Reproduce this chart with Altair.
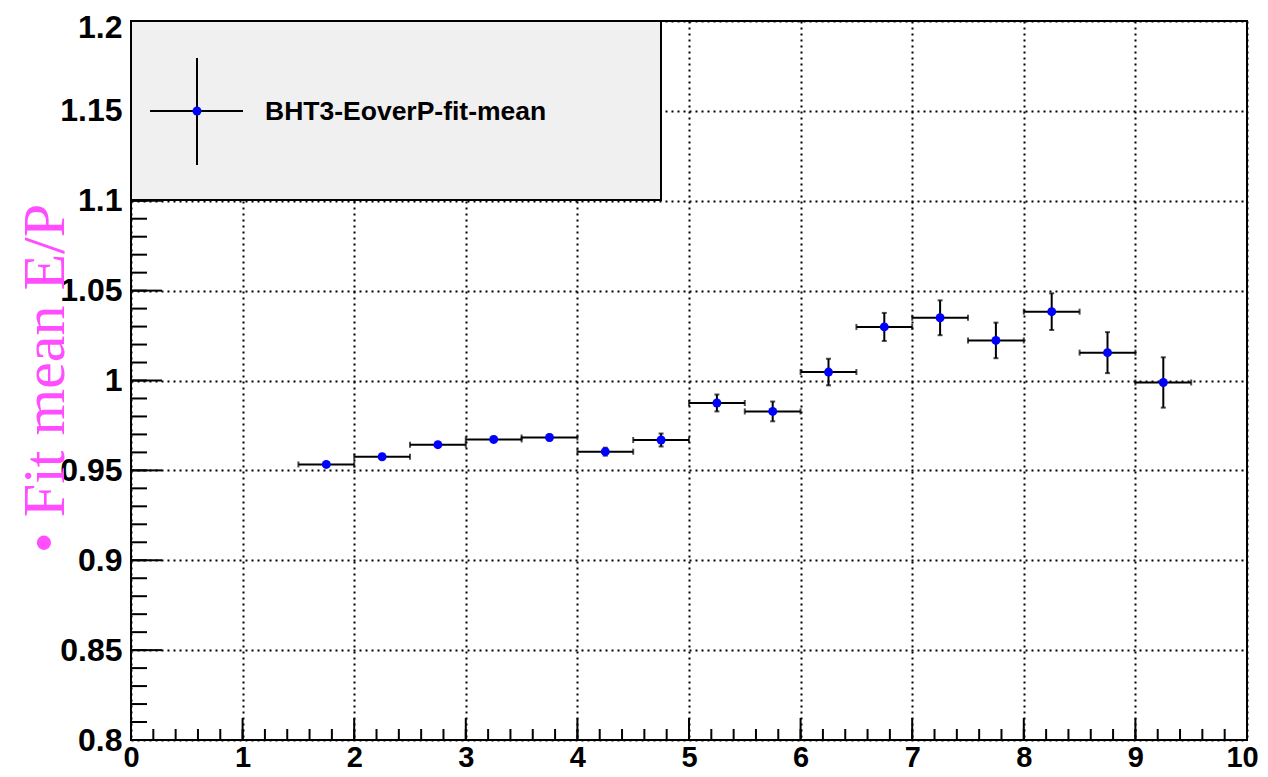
import altair as alt
import pandas as pd

# ---- data ----
x_center = [1.75, 2.25, 2.75, 3.25, 3.75, 4.25, 4.75, 5.25,
            5.75, 6.25, 6.75, 7.25, 7.75, 8.25, 8.75, 9.25]
x_halfwidth = [0.25] * 16
y_mean = [0.9533, 0.9576, 0.9643, 0.9672, 0.9683, 0.9604, 0.9669, 0.9875,
          0.9828, 1.0047, 1.0298, 1.0349, 1.0223, 1.0383, 1.0155, 0.9989]
y_err = [0.0012, 0.0013, 0.0014, 0.0015, 0.0016, 0.0022, 0.0036, 0.0047,
         0.0055, 0.0074, 0.0078, 0.0097, 0.0099, 0.0102, 0.0114, 0.0140]

x_major = [0, 1, 2, 3, 4, 5, 6, 7, 8, 9, 10]
x_minor = [round(i * 0.2, 2) for i in range(51)]
y_major = [0.8, 0.85, 0.9, 0.95, 1.0, 1.05, 1.1, 1.15, 1.2]
y_minor = [round(0.8 + i * 0.01, 2) for i in range(41)]

legend_label = "BHT3-EoverP-fit-mean"
y_title = "\u2022 Fit mean E/P"

W, H = 1116, 719

df = pd.DataFrame({
    "x": x_center,
    "xlo": [c - h for c, h in zip(x_center, x_halfwidth)],
    "xhi": [c + h for c, h in zip(x_center, x_halfwidth)],
    "y": y_mean,
    "ylo": [m - e for m, e in zip(y_mean, y_err)],
    "yhi": [m + e for m, e in zip(y_mean, y_err)],
})

xs = alt.Scale(domain=[0, 10], nice=False, zero=False)
ys = alt.Scale(domain=[0.8, 1.2], nice=False, zero=False)

x_axis = alt.Axis(values=x_major, format="d", grid=True, ticks=False, domain=False,
                  labelFont="Liberation Sans", labelFontWeight="bold", labelFontSize=29,
                  labelColor="black", labelPadding=3, title=None,
                  labelOffset=alt.expr("datum.value == 10 ? -5 : 0"),
                  gridColor="black", gridDash=[2, 4], gridWidth=2, gridOpacity=1,
                  labelFlush=False, labelOverlap=False)
y_axis = alt.Axis(values=y_major, format="~g", grid=True, ticks=False, domain=False,
                  labelFont="Liberation Sans", labelFontWeight="bold", labelFontSize=32,
                  labelColor="black", labelPadding=9,
                  labelOffset=alt.expr("datum.value >= 1.19 ? 6 : 0"),
                  title=y_title, titleFont="Liberation Serif", titleFontSize=60,
                  titleFontWeight="normal", titleColor="#ff4dff", titleAngle=270,
                  titleBaseline="alphabetic", titleAlign="center", titleX=-68, titleY=357,
                  gridColor="black", gridDash=[2, 4], gridWidth=2, gridOpacity=1,
                  labelFlush=False, labelOverlap=False)

base = alt.Chart(df)

# horizontal error bars (define axes here)
hbar = base.mark_rule(color="black", strokeWidth=2).encode(
    x=alt.X("xlo:Q", scale=xs, axis=x_axis),
    x2="xhi:Q",
    y=alt.Y("y:Q", scale=ys, axis=y_axis),
)
hcap_l = base.mark_tick(color="black", orient="vertical", size=6, thickness=2).encode(
    x=alt.X("xlo:Q", scale=xs), y=alt.Y("y:Q", scale=ys))
hcap_r = base.mark_tick(color="black", orient="vertical", size=6, thickness=2).encode(
    x=alt.X("xhi:Q", scale=xs), y=alt.Y("y:Q", scale=ys))
vbar = base.mark_rule(color="black", strokeWidth=2).encode(
    x=alt.X("x:Q", scale=xs), y=alt.Y("ylo:Q", scale=ys), y2="yhi:Q")
vcap_lo = base.mark_tick(color="black", orient="horizontal", size=5, thickness=2).encode(
    x=alt.X("x:Q", scale=xs), y=alt.Y("ylo:Q", scale=ys))
vcap_hi = base.mark_tick(color="black", orient="horizontal", size=5, thickness=2).encode(
    x=alt.X("x:Q", scale=xs), y=alt.Y("yhi:Q", scale=ys))
points = base.mark_point(filled=True, shape="circle", size=80, color="#0000ff", opacity=1).encode(
    x=alt.X("x:Q", scale=xs), y=alt.Y("y:Q", scale=ys))

# inner ticks (ROOT style)
xmaj = alt.Chart(pd.DataFrame({"t": x_major})).mark_rule(color="black", strokeWidth=2).encode(
    x=alt.X("t:Q", scale=xs), y=alt.value(H), y2=alt.value(H - 22))
xmin = alt.Chart(pd.DataFrame({"t": x_minor})).mark_rule(color="black", strokeWidth=2).encode(
    x=alt.X("t:Q", scale=xs), y=alt.value(H), y2=alt.value(H - 11))
ymaj = alt.Chart(pd.DataFrame({"t": y_major})).mark_rule(color="black", strokeWidth=2).encode(
    y=alt.Y("t:Q", scale=ys), x=alt.value(0), x2=alt.value(31))
ymin = alt.Chart(pd.DataFrame({"t": y_minor})).mark_rule(color="black", strokeWidth=2).encode(
    y=alt.Y("t:Q", scale=ys), x=alt.value(0), x2=alt.value(16))

# legend box
one = pd.DataFrame({"label": [legend_label]})
leg_box = alt.Chart(one).mark_rect(fill="#f0f0f0", stroke="black", strokeWidth=2).encode(
    x=alt.value(0), x2=alt.value(530), y=alt.value(0), y2=alt.value(179))
leg_h = alt.Chart(one).mark_rule(color="black", strokeWidth=2).encode(
    x=alt.value(19), x2=alt.value(112), y=alt.value(90))
leg_v = alt.Chart(one).mark_rule(color="black", strokeWidth=2).encode(
    x=alt.value(66), y=alt.value(37), y2=alt.value(144))
leg_pt = alt.Chart(one).mark_point(filled=True, shape="circle", size=80, color="#0000ff", opacity=1).encode(
    x=alt.value(66), y=alt.value(90))
leg_txt = alt.Chart(one).mark_text(font="Liberation Sans", fontWeight="bold", fontSize=26.5,
                                   align="left", baseline="middle", color="black").encode(
    x=alt.value(134), y=alt.value(91), text="label:N")

chart = alt.layer(
    hbar, xmaj, xmin, ymaj, ymin,
    leg_box, leg_h, leg_v, leg_pt, leg_txt,
    hcap_l, hcap_r, vbar, vcap_lo, vcap_hi, points,
).properties(
    width=W, height=H,
    padding={"left": 123, "top": 13, "right": 13, "bottom": 37},
    autosize="none",
    background="white",
).configure_view(stroke="black", strokeWidth=2)

chart.save("out.html", embed_options={"renderer": "svg", "actions": False})
